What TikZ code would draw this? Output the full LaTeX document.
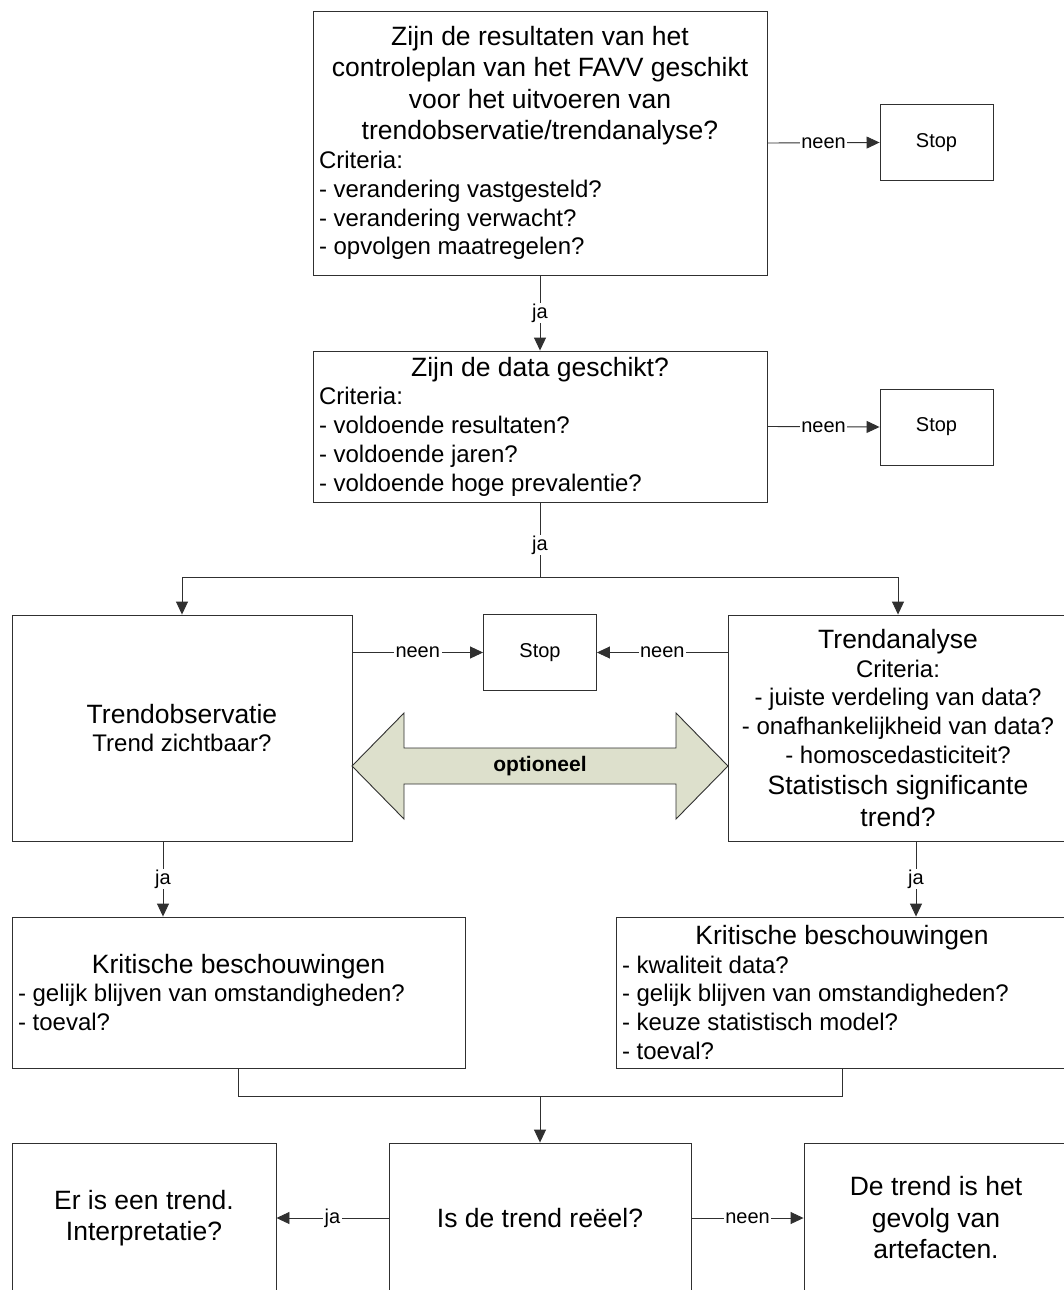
\documentclass[tikz,border=0pt]{standalone}
\usepackage{fontspec}
\setmainfont{Liberation Sans}
\usetikzlibrary{arrows.meta}

\newcommand\fkop{\fontsize{26.5}{31.5}\selectfont}
\newcommand\fcrit{\fontsize{24}{28.7}\selectfont}
\newcommand\flab{\fontsize{20}{24}\selectfont}
\definecolor{optgreen}{HTML}{DDE0CC}
\definecolor{lijn}{HTML}{303030}

\begin{document}
\begin{tikzpicture}[x=1pt,y=-1pt,
  box/.style={draw=lijn, line width=0.9pt, inner xsep=6pt, inner ysep=3pt, font=\fcrit},
  stopbox/.style={draw=lijn, line width=0.9pt, minimum width=113pt, minimum height=76pt, font=\flab},
  arr/.style={draw=lijn, line width=0.9pt, -{Triangle[length=13pt,width=12pt]}},
  lijnstuk/.style={draw=lijn, line width=0.9pt},
  lab/.style={fill=white, inner xsep=1.5pt, inner ysep=1pt, font=\flab}]
\useasboundingbox (0,0) rectangle (1064,1290);
\clip (0,0) rectangle (1064,1290);
\fill[white] (0,0) rectangle (1064,1290);
% vragen bovenaan
\node[box, text width=442pt, minimum height=264pt, align=flush left] (vraag1) at (540,143)
  {{\centering\fkop Zijn de resultaten van het\\ controleplan van het FAVV geschikt\\ voor het uitvoeren van\\ trendobservatie/trendanalyse?\par}
   \fcrit Criteria:\\ - verandering vastgesteld?\\ - verandering verwacht?\\ - opvolgen maatregelen?\par};
\node[stopbox] (stop1) at (936.5,142.5) {Stop};
\node[box, text width=442pt, minimum height=151pt, align=flush left] (vraag2) at (540,426.5)
  {{\centering\fkop Zijn de data geschikt?\par}
   \fcrit Criteria:\\ - voldoende resultaten?\\ - voldoende jaren?\\ - voldoende hoge prevalentie?\par};
\node[stopbox] (stop2) at (936.5,427) {Stop};
% twee methoden
\node[box, text width=328pt, minimum height=226pt, align=flush center] (obs) at (182,728)
  {{\fkop Trendobservatie\par}\fcrit Trend zichtbaar?\par};
\node[box, text width=328pt, minimum height=226pt, align=flush center] (ana) at (898,728)
  {{\fkop Trendanalyse\par}\fcrit Criteria:\\ - juiste verdeling van data?\\ - onafhankelijkheid van data?\\ - homoscedasticiteit?\par
   {\fkop Statistisch significante\\ trend?\par}};
\node[stopbox] (stop3) at (540,652.5) {Stop};
\filldraw[fill=optgreen, draw=lijn, line width=0.9pt]
  (352,766) -- (404,713) -- (404,748) -- (676,748) -- (676,713) -- (728,766)
  -- (676,819) -- (676,784) -- (404,784) -- (404,819) -- cycle;
\node[font=\fontsize{21}{25}\selectfont\bfseries] (opt) at (540,766) {optioneel};
% kritische beschouwingen
\node[box, text width=441pt, minimum height=151pt, align=flush left] (kritL) at (238.5,992.5)
  {{\centering\fkop Kritische beschouwingen\par}
   \fcrit - gelijk blijven van omstandigheden?\\ - toeval?\par};
\node[box, text width=440pt, minimum height=151pt, align=flush left] (kritR) at (842,992.5)
  {{\centering\fkop Kritische beschouwingen\par}
   \fcrit - kwaliteit data?\\ - gelijk blijven van omstandigheden?\\ - keuze statistisch model?\\ - toeval?\par};
% besluit
\node[box, text width=252pt, minimum height=150pt, align=flush center, font=\fkop] (trend) at (144,1218)
  {Er is een trend.\\ Interpretatie?\par};
\node[box, text width=290pt, minimum height=150pt, align=flush center, font=\fkop] (reeel) at (540,1218)
  {Is de trend reëel?\par};
\node[box, text width=252pt, minimum height=150pt, align=flush center, font=\fkop] (artef) at (936,1218)
  {De trend is het\\ gevolg van\\ artefacten.\par};
% verbindingen
\coordinate (splits) at (540,577);
\coordinate (samen) at (540,1096);
\coordinate (jaL) at (163,0);
\coordinate (jaR) at (916,0);
\draw[arr] (vraag1.east) -- node[lab]{neen} (stop1.west);
\draw[arr] (vraag1.south) -- node[lab]{ja} (vraag2.north);
\draw[arr] (vraag2.east) -- node[lab]{neen} (stop2.west);
\draw[lijnstuk] (vraag2.south) -- node[lab, pos=0.57]{ja} (splits);
\draw[arr] (splits) -| (obs.north);
\draw[arr] (splits) -| (ana.north);
\draw[arr] (obs.east |- stop3.west) -- node[lab]{neen} (stop3.west);
\draw[arr] (ana.west |- stop3.east) -- node[lab]{neen} (stop3.east);
\draw[arr] (obs.south -| jaL) -- node[lab]{ja} (kritL.north -| jaL);
\draw[arr] (ana.south -| jaR) -- node[lab]{ja} (kritR.north -| jaR);
\draw[lijnstuk] (kritL.south) |- (samen) -| (kritR.south);
\draw[arr] (samen) -- (reeel.north);
\draw[arr] (reeel.west) -- node[lab]{ja} (trend.east);
\draw[arr] (reeel.east) -- node[lab]{neen} (artef.west);
\end{tikzpicture}
\end{document}
